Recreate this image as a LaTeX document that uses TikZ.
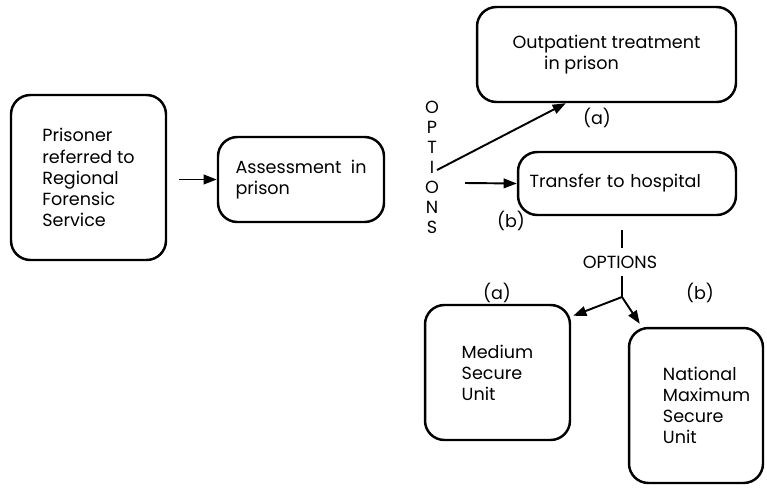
\documentclass[tikz,border=0pt]{standalone}
\usepackage{fontspec}
\setmainfont{Poppins}
\usetikzlibrary{arrows.meta,calc}
\begin{document}
\begin{tikzpicture}[x = 0.02cm, y = -0.02cm,
    box/.style = {draw, line width = 1.4pt, rounded corners = 11pt, align = left, inner sep = 0pt},
    arr/.style = {-{Triangle[length = 7.5pt, width = 5.5pt]}, line width = 1.1pt},
    font = \fontsize{10}{12}\selectfont]
  \useasboundingbox (0, 0) rectangle (767, 487);
  \node [box, minimum width = 3.1cm, minimum height = 3.3cm] (pris) at (88.5, 177.5)
    {Prisoner\\referred to\\Regional\\Forensic\\Service};
  \node [box, minimum width = 3.32cm, minimum height = 1.7cm] (assess) at (301, 179.5)
    {Assessment\ \ in\\prison};
  \node [box, minimum width = 5.18cm, minimum height = 1.9cm] (outp) at (606.5, 54.5)
    {Outpatient treatment\\\hspace*{18pt}in prison};
  \node [box, text width = 3.9cm, inner xsep = 0.23cm, minimum height = 1.26cm] (trans) at (627, 183.5)
    {Transfer to hospital};
  \node [box, minimum width = 2.9cm, minimum height = 2.7cm] (med) at (497.5, 372.5)
    {Medium\\Secure\\Unit};
  \node [box, minimum width = 2.68cm, minimum height = 3.1cm] (natl) at (696, 405.5)
    {\hspace*{12pt}National\\\hspace*{12pt}Maximum\\\hspace*{12pt}Secure\\\hspace*{12pt}Unit};
  \draw [arr, shorten <= 6.8pt] (pris.east |- assess.west) -- (assess.west);
  \node [align = center, inner sep = 0pt, font = \fontsize{10}{11.4}\selectfont] (optv) at (432, 167)
    {O\\P\\T\\I\\O\\N\\S};
  \coordinate (optA) at (437, 170);
  \coordinate (optB) at (465, 183);
  \draw [arr] (optA) -- ($(outp.south west) + (90, 0)$);
  \draw [arr] (optB) -- (trans.west);
  \node (oa) at (597, 118) {(a)};
  \node (ob) at (511, 221) {(b)};
  \node [inner sep = 1pt] (opth) at (620, 262) {OPTIONS};
  \coordinate (fork) at (622, 297);
  \draw [line width = 1.1pt, shorten <= 8pt, shorten >= 3pt] (trans.south -| fork) -- (opth.north -| fork);
  \draw [line width = 1.1pt, shorten <= 3pt] (opth.south -| fork) -- (fork);
  \draw [arr] (fork) -- ($(med.north east) + (2, 12)$);
  \draw [arr] (fork) -- ($(natl.north west) + (12, -3)$);
  \node (ma) at (497, 293) {(a)};
  \node (nb) at (700, 293) {(b)};
\end{tikzpicture}
\end{document}
